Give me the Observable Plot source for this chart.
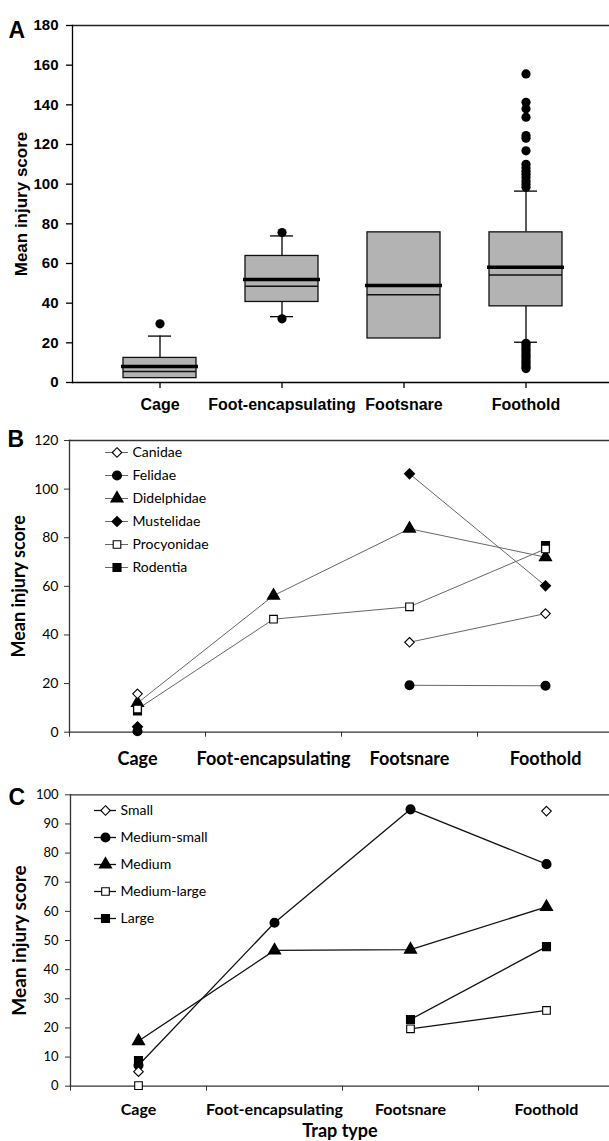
<!DOCTYPE html>
<html><head><meta charset="utf-8">
<script src="https://cdn.jsdelivr.net/npm/d3@7"></script>
<script src="https://cdn.jsdelivr.net/npm/@observablehq/plot@0.6"></script>
<style>
body{margin:0;background:#fff;}
.panel{position:relative;width:609px;overflow:hidden;}
.panel svg{display:block;}
.legend{position:absolute;}
</style></head><body>
<div id="A" class="panel"></div>
<div id="B" class="panel"></div>
<div id="C" class="panel"></div>
<script>
// ---------- shared categories ----------
const trapTypes = ["Cage", "Foot-encapsulating", "Footsnare", "Foothold"];

// ---------- Panel A: box plot ----------
const boxQ1 = [2.2, 40.6, 22.2, 38.4];
const boxQ3 = [12.4, 63.8, 75.7, 75.7];
const boxMedian = [5.5, 48.5, 44.2, 54.2];
const boxMean = [8.1, 51.9, 48.9, 58.1];
const whiskerLow = [null, 33.2, null, 20.3];
const whiskerHigh = [23.4, 73.9, null, 96.5];
const outliersCage = [29.6];
const outliersFootEnc = [75.6, 32.1];
const outliersFootsnare = [];
const outliersFoothold = [155.6, 141.3, 138.0, 133.8, 124.5, 123.2, 116.8,
  110.0, 108.3, 106.5, 105.0, 103.3, 101.5, 100.0, 98.5,
  19.8, 18.6, 17.4, 16.2, 15.0, 13.8, 12.6, 11.4, 10.2, 9.0, 7.8, 7.0];
const yTicksA = [0, 20, 40, 60, 80, 100, 120, 140, 160, 180];

// ---------- Panel B: by family ----------
const families = ["Canidae", "Felidae", "Didelphidae", "Mustelidae", "Procyonidae", "Rodentia"];
const familySymbols = ["diamond2", "circle", "triangle", "diamond2", "square", "square"];
const familyOpen = ["Canidae", "Procyonidae"];
const canidae = [15.8, null, 37.0, 48.8];
const felidae = [0.4, null, 19.3, 19.1];
const didelphidae = [12.0, 56.2, 83.7, 72.0];
const mustelidae = [2.2, null, 106.3, 60.2];
const procyonidae = [9.5, 46.5, 51.6, 75.4];
const rodentia = [8.7, null, null, 76.8];
const yTicksB = [0, 20, 40, 60, 80, 100, 120];

// ---------- Panel C: by body size ----------
const sizes = ["Small", "Medium-small", "Medium", "Medium-large", "Large"];
const sizeSymbols = ["diamond2", "circle", "triangle", "square", "square"];
const sizeOpen = ["Small", "Medium-large"];
const small = [5.0, null, null, 94.4];
const mediumSmall = [7.2, 56.1, 95.0, 76.2];
const medium = [15.5, 46.6, 46.9, 61.5];
const mediumLarge = [0.2, null, 19.7, 26.0];
const large = [8.8, null, 22.9, 47.9];
const yTicksC = [0, 10, 20, 30, 40, 50, 60, 70, 80, 90, 100];

// ---------- build tables ----------
const boxRows = trapTypes.map((t, i) => ({type: t, q1: boxQ1[i], q3: boxQ3[i], median: boxMedian[i],
  mean: boxMean[i], lo: whiskerLow[i], hi: whiskerHigh[i]}));
const outlierRows = [
  ...outliersCage.map(v => ({type: trapTypes[0], v})),
  ...outliersFootEnc.map(v => ({type: trapTypes[1], v})),
  ...outliersFootsnare.map(v => ({type: trapTypes[2], v})),
  ...outliersFoothold.map(v => ({type: trapTypes[3], v}))
];
const familyValues = [canidae, felidae, didelphidae, mustelidae, procyonidae, rodentia];
const familyRows = families.flatMap((f, k) => trapTypes.map((t, i) => ({series: f, pos: i + 0.5, v: familyValues[k][i]})));
const sizeValues = [small, mediumSmall, medium, mediumLarge, large];
const sizeRows = sizes.flatMap((s, k) => trapTypes.map((t, i) => ({series: s, pos: i + 0.5, v: sizeValues[k][i]})));

// ---------- Panel A ----------
const fontA = "'Liberation Sans', Arial, sans-serif";
const plotA = Plot.plot({
  width: 609, height: 420,
  marginTop: 25, marginBottom: 38, marginLeft: 72, marginRight: 0,
  style: {fontFamily: fontA, fontWeight: "bold", color: "black", background: "white", overflow: "visible"},
  x: {type: "band", domain: trapTypes, range: [72, 613], paddingInner: 0.4, paddingOuter: 0.4},
  y: {domain: [0, 180]},
  marks: [
    Plot.frame({anchor: "top", stroke: "#222", strokeWidth: 1.5}),
    Plot.frame({anchor: "left", stroke: "black", strokeWidth: 1.3}),
    Plot.frame({anchor: "bottom", stroke: "black", strokeWidth: 1.3}),
    Plot.axisY({ticks: yTicksA, tickSize: 6, tickPadding: 8, fontSize: 15, label: null, strokeWidth: 1.3}),
    Plot.axisX({tickSize: 6, tickPadding: 10, fontSize: 16, label: null, strokeWidth: 1.3}),
    Plot.ruleX(boxRows.filter(d => d.hi != null), {x: "type", y1: "q3", y2: "hi", strokeWidth: 1.3}),
    Plot.ruleX(boxRows.filter(d => d.lo != null), {x: "type", y1: "lo", y2: "q1", strokeWidth: 1.3}),
    Plot.tickY(boxRows.filter(d => d.hi != null), {x: "type", y: "hi", insetLeft: 25, insetRight: 25, strokeWidth: 1.3}),
    Plot.tickY(boxRows.filter(d => d.lo != null), {x: "type", y: "lo", insetLeft: 25, insetRight: 25, strokeWidth: 1.3}),
    Plot.barY(boxRows, {x: "type", y1: "q1", y2: "q3", fill: "#b3b3b3", stroke: "#111", strokeWidth: 1.3}),
    Plot.tickY(boxRows, {x: "type", y: "median", strokeWidth: 1.5, stroke: "#111"}),
    Plot.tickY(boxRows, {x: "type", y: "mean", strokeWidth: 3.6, insetLeft: -2, insetRight: -2}),
    Plot.dot(outlierRows, {x: "type", y: "v", r: 4.6, fill: "black"}),
    Plot.text(["Mean injury score"], {text: d => d, frameAnchor: "left", textAnchor: "middle", rotate: -90, dx: -51, fontSize: 17, fontWeight: "bold"}),
    Plot.text(["A"], {text: d => d, frameAnchor: "top-left", textAnchor: "start", dx: -64, dy: -4, fontSize: 23, fontWeight: "bold"})
  ]
});
document.getElementById("A").append(plotA);

// ---------- line panels ----------
const fontBC = "Lato, 'Open Sans', sans-serif";

function linePanel(opts) {
  const {rows, names, symbols, openNames, yDomain, yTicks, height, marginTop, marginBottom, marginLeft,
         lineColor, lineWidth, tickFont, xFont, titleFont, labelPad, ytickPad, letter, letterDy, titleDx, xLabel} = opts;
  const defined = rows.filter(d => d.v != null);
  const marks = [
    Plot.frame({anchor: "top", stroke: "#333", strokeWidth: 1.3}),
    Plot.frame({anchor: "left", stroke: "#333", strokeWidth: 1.3}),
    Plot.frame({anchor: "bottom", stroke: "#333", strokeWidth: 1.3}),
    Plot.axisY({ticks: yTicks, tickSize: 5, tickPadding: ytickPad, fontSize: tickFont, label: null, stroke: "#333"}),
    Plot.axisX({ticks: [0, 1, 2, 3], tickSize: 5, tickFormat: () => "", label: null, stroke: "#333"}),
    Plot.axisX({ticks: trapTypes.map((t, i) => i + 0.5), tickSize: 0, tickPadding: labelPad,
      tickFormat: v => trapTypes[Math.floor(v)], fontSize: xFont, fontWeight: "bold", label: null}),
    Plot.line(rows, {x: "pos", y: "v", z: "series", stroke: lineColor, strokeWidth: lineWidth}),
    Plot.dot(defined.filter(d => !openNames.includes(d.series)), {x: "pos", y: "v", symbol: "series", fill: "black", stroke: "black", r: 4.3}),
    Plot.dot(defined.filter(d => openNames.includes(d.series)), {x: "pos", y: "v", symbol: "series", fill: "white", stroke: "black", strokeWidth: 1.1, r: 4.3}),
    Plot.text(["Mean injury score"], {text: d => d, frameAnchor: "left", textAnchor: "middle", rotate: -90, dx: titleDx, fontSize: titleFont, fontWeight: "bold"}),
    Plot.text([letter], {text: d => d, frameAnchor: "top-left", textAnchor: "start", dx: -62, dy: letterDy,
      fontSize: 23, fontWeight: "bold", fontFamily: fontA})
  ];
  if (xLabel) marks.push(Plot.text([xLabel], {text: d => d, frameAnchor: "bottom", lineAnchor: "top", dy: 38, fontSize: 18, fontWeight: "bold"}));
  return Plot.plot({
    width: 609, height, marginTop, marginBottom, marginLeft, marginRight: 0,
    style: {fontFamily: fontBC, color: "black", background: "white", overflow: "visible"},
    x: {type: "linear", domain: [0, (609 - marginLeft) / 136]},
    y: {domain: yDomain},
    symbol: {domain: names, range: symbols},
    marks
  });
}

function legend(opts) {
  const {names, symbols, openNames, lineColor, lineWidth, yRange, xRange, left, top} = opts;
  const svg = Plot.plot({
    width: 160, height: 160, margin: 0,
    style: {fontFamily: fontBC, color: "black", background: "transparent"},
    x: {domain: [0, 1], range: xRange, axis: null},
    y: {type: "point", domain: names, range: yRange, padding: 0, axis: null},
    symbol: {domain: names, range: symbols},
    marks: [
      Plot.ruleY(names, {y: d => d, x1: () => 0, x2: () => 1, stroke: lineColor, strokeWidth: lineWidth}),
      Plot.dot(names.filter(n => !openNames.includes(n)), {x: () => 0.5, y: d => d, symbol: d => d, fill: "black", stroke: "black", r: 4.3}),
      Plot.dot(names.filter(n => openNames.includes(n)), {x: () => 0.5, y: d => d, symbol: d => d, fill: "white", stroke: "black", strokeWidth: 1.1, r: 4.3}),
      Plot.text(names, {x: () => 1, y: d => d, text: d => d, textAnchor: "start", dx: 4, fontSize: 14})
    ]
  });
  const div = document.createElement("div");
  div.className = "legend";
  div.style.left = left + "px";
  div.style.top = top + "px";
  div.append(svg);
  return div;
}

const plotB = linePanel({
  rows: familyRows, names: families, symbols: familySymbols, openNames: familyOpen,
  yDomain: [0, 120], yTicks: yTicksB, height: 350, marginTop: 20, marginBottom: 38.3, marginLeft: 69,
  lineColor: "#666", lineWidth: 1, tickFont: 14, xFont: 18, titleFont: 18, labelPad: 20, ytickPad: 6,
  letter: "B", letterDy: -10, titleDx: -50
});
const divB = document.getElementById("B");
divB.append(plotB);
divB.append(legend({names: families, symbols: familySymbols, openNames: familyOpen, lineColor: "#666", lineWidth: 1,
  yRange: [10, 128], xRange: [15, 38], left: 90, top: 20}));

const plotC = linePanel({
  rows: sizeRows, names: sizes, symbols: sizeSymbols, openNames: sizeOpen,
  yDomain: [0, 100], yTicks: yTicksC, height: 371, marginTop: 24.3, marginBottom: 55.3, marginLeft: 70,
  lineColor: "#111", lineWidth: 1.3, tickFont: 13, xFont: 16, titleFont: 19, labelPad: 17, ytickPad: 7,
  letter: "C", letterDy: -6, titleDx: -51, xLabel: "Trap type"
});
const divC = document.getElementById("C");
divC.append(plotC);
divC.append(legend({names: sizes, symbols: sizeSymbols, openNames: sizeOpen, lineColor: "#111", lineWidth: 1.3,
  yRange: [19, 129], xRange: [14, 36], left: 80, top: 20}));
</script>
</body></html>
